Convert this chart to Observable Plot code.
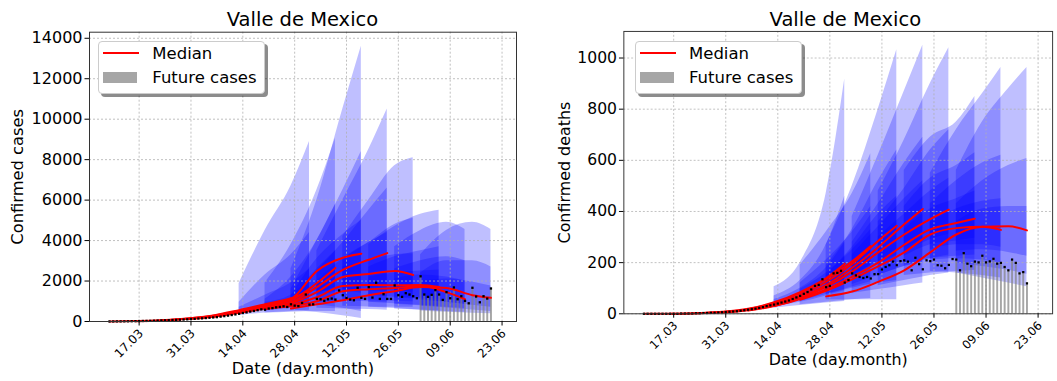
<!DOCTYPE html>
<html><head><meta charset="utf-8">
<script src="https://cdn.jsdelivr.net/npm/d3@7"></script>
<script src="https://cdn.jsdelivr.net/npm/@observablehq/plot@0.6"></script>
<style>
html,body{margin:0;padding:0;background:#fff;}
body{width:1057px;height:381px;overflow:hidden;position:relative;font-family:"DejaVu Sans",sans-serif;}
.panel{position:absolute;top:0;}
.title{position:absolute;top:8px;text-align:center;font-size:19.5px;color:#000;white-space:nowrap;line-height:normal;}
.legend{position:absolute;top:40.7px;width:167px;height:53px;box-sizing:border-box;border:1px solid #ccc;border-radius:4px;background:#fff;box-shadow:3px 3px 0 rgba(0,0,0,0.45);}
.lline{position:absolute;left:4px;top:10.6px;width:36px;height:2px;background:#ff0000;}
.lpatch{position:absolute;left:4px;top:30.6px;width:34px;height:11px;background:#a6a6a6;}
.ltext{position:absolute;left:53px;font-size:16.5px;line-height:20px;color:#000;white-space:nowrap;}
</style></head>
<body>
<div id="p1" class="panel" style="left:0"></div>
<div id="p2" class="panel" style="left:528px"></div>
<div class="title" style="left:89px;width:427px">Valle de Mexico</div>
<div class="title" style="left:625.7px;width:439.3px">Valle de Mexico</div>
<div class="legend" style="left:98.3px"><div class="lline"></div><div class="ltext" style="top:2.6px">Median</div><div class="lpatch"></div><div class="ltext" style="top:26.7px">Future cases</div></div>
<div class="legend" style="left:635px"><div class="lline"></div><div class="ltext" style="top:2.6px">Median</div><div class="lpatch"></div><div class="ltext" style="top:26.7px">Future cases</div></div>
<script>
// ---------------- DATA ----------------
const obsStart = "2020-03-09";
const futureStart = "2020-06-01";
const casesObs = [2,3,5,6,8,10,14,18, 22,26,30,34,40,46,52, 58,64,72,80,88,96,108,120,
  130,145,155,170,185,200,215, 240,265,290,320,350,380,420, 450,490,520,560,600,580,640,
  660,700,720,750,717,850,783,760,917,
  1333,833,850,1117,1100,1017,1100,1133,1083,1533,
  1300,1167,1083,1050,1667,1167,1117,1700,1183,1917,
  1117,1350,1117,1117,1783,1300,1217,1400,1333,1250,1150,
  2233,1333,1217,1317,1550,1333,1067,1450,1150,1683,
  1100,1250,1017,900,1667,1233,950,1250,1133,1633];
const deathsObs = [0,0,0,0,0,0,0,0, 0,0,1,1,1,1,2, 2,3,3,4,4,5,6,7,
  8,9,10,12,14,16,18, 20,23,26,30,33,36,40, 44,48,52,58,64,70,78,
  85,95,109,113,135,104,109,158,160,
  168,122,132,158,150,144,140,144,138,155,
  155,173,183,190,204,190,206,209,204,170,
  219,194,174,209,206,212,190,188,178,191,214,
  212,170,237,196,186,204,201,227,201,205,
  215,196,199,183,170,212,199,158,163,119];

const medianStarts = ["2020-03-09","2020-03-16","2020-03-23","2020-03-30","2020-04-06","2020-04-13","2020-04-20","2020-04-27"];
const medianKnotDays = [0,7,14,21,28,35,42,49,54];
const bandStarts = ["2020-04-13","2020-04-20","2020-04-27","2020-05-04","2020-05-11","2020-05-18","2020-05-25","2020-06-01"];
const bandKnotDays = [0,7,14,19];

const casesMedian = [
  [2,20,60,150,300,560,850,1150,1500],
  [18,55,140,280,520,800,1050,1900,2650],
  [50,130,260,500,780,1100,2500,3150,3350],
  [120,240,460,720,950,1700,2550,3050,3380],
  [230,430,690,900,1450,2200,2350,2500,2300],
  [420,640,820,1200,1750,1800,1790,1800,1700],
  [620,760,1000,1500,1600,1650,1750,1450,1100],
  [640,850,1050,1300,1500,1700,1650,1300,1170]];
const casesOuterLo = [[300,420,500,560],[420,460,490,500],[550,450,280,150],[650,620,590,560],[750,720,700,700],[700,640,570,520],[620,560,500,460],[520,460,410,380]];
const casesOuterHi = [[1880,4500,6700,8900],[1900,3800,6500,9060],[2600,6000,10500,13600],[3500,6000,8500,10500],[4200,6000,7700,8100],[3800,4700,5300,5500],[3700,4500,4900,4550],[3300,4500,4900,4550]];
const casesMidLo = [[380,560,720,850],[520,650,900,1000],[700,800,650,500],[1000,1000,980,950],[1100,1050,1000,980],[950,880,800,760],[850,780,700,640],[750,670,570,500]];
const casesMidHi = [[950,2300,3300,4400],[1100,2200,4000,5800],[1600,4000,6500,8400],[2500,3900,5500,6600],[3100,3900,4800,5100],[2700,3200,3500,3700],[2600,3000,3200,3000],[2400,3000,3000,2700]];
const casesInLo = [[450,680,920,1150],[600,800,1350,1700],[850,1500,1500,1400],[1300,1500,1650,1700],[1600,1500,1500,1450],[1300,1200,1150,1100],[1150,1100,950,850],[1050,950,800,700]];
const casesInHi = [[700,1300,1900,2600],[950,1300,2600,3500],[1250,3100,4300,5000],[2000,3100,3900,4400],[2700,3000,3300,3350],[2200,2400,2500,2550],[2100,2300,2200,2000],[2000,2100,1950,1750]];

const deathsMedian = [
  [0,0,2,8,20,45,85,140,196],
  [0,2,7,18,42,80,135,205,265],
  [2,6,16,38,72,125,195,285,344],
  [5,14,32,65,112,180,260,350,410],
  [13,30,60,105,165,240,310,370,407],
  [30,58,95,145,200,270,330,355,372],
  [55,90,135,185,240,310,335,340,328],
  [68,87,125,170,240,310,340,342,326]];
const deathsOuterLo = [[22,32,42,48],[35,45,55,60],[55,55,55,55],[80,95,110,120],[110,130,150,160],[150,160,165,170],[165,160,150,140],[160,140,120,106]];
const deathsOuterHi = [[106,200,470,918],[190,320,470,626],[270,500,800,1032],[380,620,870,1050],[480,680,900,1040],[560,690,750,850],[550,720,860,963],[560,750,880,963]];
const deathsMidLo = [[28,45,70,90],[48,75,105,125],[75,100,120,130],[115,150,185,200],[150,185,215,230],[190,215,225,230],[210,215,210,200],[200,185,170,155]];
const deathsMidHi = [[70,130,270,460],[120,210,320,420],[190,330,520,640],[280,430,590,690],[360,490,640,720],[420,530,580,630],[430,520,590,620],[430,520,580,607]];
const deathsInLo = [[34,60,100,140],[62,100,150,190],[100,145,200,230],[145,205,260,290],[190,240,290,310],[225,270,285,295],[250,270,270,260],[245,250,240,225]];
const deathsInHi = [[56,100,180,280],[95,160,250,330],[150,260,390,460],[230,340,450,520],[300,390,480,530],[330,410,450,480],[360,410,440,450],[360,410,420,420]];

const tickDates = ["2020-03-17","2020-03-31","2020-04-14","2020-04-28","2020-05-12","2020-05-26","2020-06-09","2020-06-23"];
const tickLabels = ["17.03","31.03","14.04","28.04","12.05","26.05","09.06","23.06"];
const casesTicks = [0,2000,4000,6000,8000,10000,12000,14000];
const deathsTicks = [0,200,400,600,800,1000];

// ---------------- BUILD ----------------
const DAY = 864e5;
const parse = s => new Date(s + "T00:00:00Z");
const addDays = (d, n) => new Date(d.getTime() + n * DAY);
const xDomain = [addDays(parse("2020-03-17"), -13.4), addDays(parse("2020-06-23"), 3.9)];
const ticks = tickDates.map((s, i) => ({x: parse(s), label: tickLabels[i]}));

function obsRows(vals) { const s = parse(obsStart); return vals.map((v, i) => ({x: addDays(s, i), y: v})); }
function medRows(m) {
  const rows = [];
  m.forEach((arr, f) => { const s = parse(medianStarts[f]); arr.forEach((v, i) => rows.push({f, x: addDays(s, medianKnotDays[i]), y: v})); });
  return rows;
}
function bandRows(lo, hi) {
  const rows = [];
  bandStarts.forEach((s, f) => { const d0 = parse(s); bandKnotDays.forEach((k, i) => rows.push({f, x: addDays(d0, k), y1: lo[f][i], y2: hi[f][i]})); });
  return rows;
}

function panel(cfg) {
  const obs = obsRows(cfg.obs);
  const fut = obs.filter(d => d.x >= parse(futureStart));
  const bandMarks = cfg.bands.map(([lo, hi]) => Plot.areaY(bandRows(lo, hi), {x: "x", y1: "y1", y2: "y2", z: "f", fill: "#0000ff", fillOpacity: 0.25, curve: "monotone-x"}));
  return Plot.plot({
    width: cfg.width, height: 381,
    marginLeft: cfg.ml, marginRight: cfg.mr, marginTop: 31.7, marginBottom: 60,
    x: {type: "utc", domain: xDomain},
    y: {domain: [0, cfg.ymax]},
    style: {fontFamily: "'DejaVu Sans', sans-serif", background: "transparent", color: "#000"},
    marks: [
      ...bandMarks,
      Plot.gridY(cfg.yTicks, {stroke: "#b0b0b0", strokeOpacity: 1, strokeWidth: 0.8, strokeDasharray: "2,2"}),
      Plot.gridX(ticks.map(t => t.x), {stroke: "#b0b0b0", strokeOpacity: 1, strokeWidth: 0.8, strokeDasharray: "2,2"}),
      Plot.ruleX(fut, {x: "x", y1: 0, y2: "y", stroke: "#808080", strokeOpacity: 0.7, strokeWidth: 2}),
      Plot.line(medRows(cfg.median), {x: "x", y: "y", z: "f", stroke: "#ff0000", strokeWidth: 2, curve: "monotone-x"}),
      Plot.dot(obs, {x: "x", y: "y", symbol: "square", r: 1.3, fill: "#000", stroke: "none"}),
      Plot.frame({stroke: "#333", strokeWidth: 1}),
      Plot.axisY(cfg.yTicks, {tickSize: 4.5, tickPadding: 2.5, fontSize: 16, label: null, tickFormat: d => String(d)}),
      Plot.axisX(ticks.map(t => t.x), {tickSize: 4.5, tickFormat: () => "", label: null}),
      Plot.text(ticks, {x: "x", text: "label", frameAnchor: "bottom", dx: 2, dy: 10, rotate: -45, textAnchor: "end", lineAnchor: "middle", fontSize: 12}),
      Plot.text(["Date (day.month)"], {frameAnchor: "bottom", dy: 47, textAnchor: "middle", lineAnchor: "middle", fontSize: 16.3}),
      Plot.text([cfg.ylabel], {frameAnchor: "left", dx: cfg.ylabDx, rotate: -90, textAnchor: "middle", lineAnchor: "middle", fontSize: 16.3})
    ]
  });
}

document.getElementById("p1").appendChild(panel({
  width: 528, ml: 89, mr: 12, ymax: 14300, yTicks: casesTicks, obs: casesObs, median: casesMedian,
  bands: [[casesOuterLo, casesOuterHi], [casesMidLo, casesMidHi], [casesInLo, casesInHi]],
  ylabel: "Confirmed cases", ylabDx: -72
}));
document.getElementById("p2").appendChild(panel({
  width: 542, ml: 97.7, mr: 5, ymax: 1104, yTicks: deathsTicks, obs: deathsObs, median: deathsMedian,
  bands: [[deathsOuterLo, deathsOuterHi], [deathsMidLo, deathsMidHi], [deathsInLo, deathsInHi]],
  ylabel: "Confirmed deaths", ylabDx: -60
}));
</script>
</body></html>
